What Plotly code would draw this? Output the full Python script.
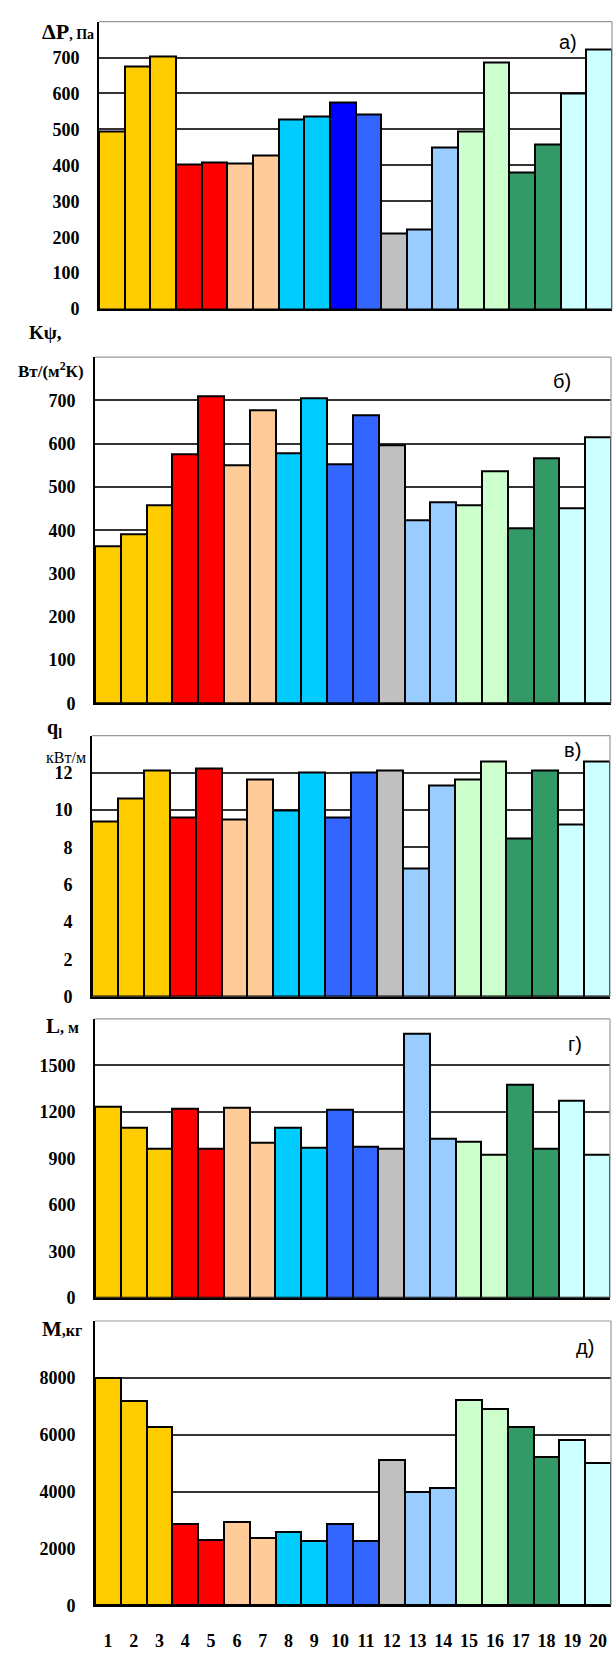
import plotly.graph_objects as go
from plotly.subplots import make_subplots

# ---------------- data ----------------
categories = list(range(1, 21))
x_labels = [str(c) for c in categories]

dP = [495, 675, 702, 403, 408, 405, 428, 528, 535, 576,
      541, 209, 220, 450, 495, 686, 381, 459, 599, 723]
K_psi = [364, 390, 458, 575, 711, 551, 677, 579, 705, 553,
         666, 596, 424, 465, 458, 537, 404, 566, 451, 616]
q_l = [9.38, 10.62, 12.14, 9.58, 12.21, 9.52, 11.65, 9.98, 12.0, 9.63,
       12.0, 12.14, 6.85, 11.33, 11.65, 12.62, 8.48, 12.14, 9.22, 12.6]
L_m = [1230, 1094, 961, 1218, 961, 1224, 999, 1094, 967, 1211,
       972, 961, 1701, 1029, 1006, 922, 1374, 961, 1269, 922]
M_kg = [8000, 7187, 6258, 2845, 2287, 2926, 2369, 2566, 2252, 2845,
        2252, 5120, 3994, 4110, 7210, 6897, 6270, 5201, 5805, 4992]

ticks_a = [0, 100, 200, 300, 400, 500, 600, 700]
ticks_b = [0, 100, 200, 300, 400, 500, 600, 700]
ticks_c = [0, 2, 4, 6, 8, 10, 12]
ticks_d = [0, 300, 600, 900, 1200, 1500]
ticks_e = [0, 2000, 4000, 6000, 8000]

GOLD, RED, PEACH = "#FFCC00", "#FF0000", "#FFCC99"
CYAN, BLUE, DBLUE = "#00CCFF", "#3366FF", "#0000FF"
GRAY, LBLUE, LGREEN = "#C0C0C0", "#99CCFF", "#CCFFCC"
DGREEN, LCYAN = "#339966", "#CCFFFF"

colors_base = [GOLD, GOLD, GOLD, RED, RED, PEACH, PEACH, CYAN, CYAN, BLUE,
               BLUE, GRAY, LBLUE, LBLUE, LGREEN, LGREEN, DGREEN, DGREEN, LCYAN, LCYAN]
colors_a = colors_base[:9] + [DBLUE] + colors_base[10:]

panels = [
    dict(y=dP, colors=colors_a, ticks=ticks_a, rng=[0, 800]),
    dict(y=K_psi, colors=colors_base, ticks=ticks_b, rng=[0, 800]),
    dict(y=q_l, colors=colors_base, ticks=ticks_c, rng=[0, 14]),
    dict(y=L_m, colors=colors_base, ticks=ticks_d, rng=[0, 1800]),
    dict(y=M_kg, colors=colors_base, ticks=ticks_e, rng=[0, 10000]),
]

# layout geometry (pixels)
W, H = 616, 1660
xdom_px = [(99, 612), (95, 611), (92, 610), (95, 610), (95, 611)]
ydom_px = [(21.7, 311), (359.3, 707.7), (740, 1002.7), (1025, 1305.7), (1329, 1615)]


def px_x(p):
    return p / W


def px_y(p):
    return 1 - p / H


fig = make_subplots(rows=5, cols=1)

SERIF = "Liberation Serif, Times New Roman, serif"
SANS = "Liberation Sans, Arial, sans-serif"
tickfont = dict(family=SERIF, size=18, color="black", weight="bold")

for i, p in enumerate(panels):
    r = i + 1
    fig.add_trace(go.Bar(
        x=categories, y=p["y"],
        marker=dict(color=p["colors"], line=dict(color="black", width=2)),
        showlegend=False,
    ), row=r, col=1)
    xd = [px_x(xdom_px[i][0]), px_x(xdom_px[i][1])]
    yd = [px_y(ydom_px[i][1]), px_y(ydom_px[i][0])]
    fig.update_xaxes(
        domain=xd, range=[0.5, 20.5], showgrid=False, zeroline=False,
        showline=True, linecolor="black", linewidth=2,
        tickvals=categories, ticktext=x_labels, ticks="",
        showticklabels=(r == 5), tickfont=tickfont, ticklabelstandoff=18,
        row=r, col=1)
    fig.update_yaxes(
        domain=yd, range=p["rng"], tickvals=p["ticks"], showgrid=True,
        gridcolor="#333333", gridwidth=1.5, zeroline=False,
        showline=True, linecolor="black", linewidth=2, ticks="",
        tickfont=tickfont, ticklabelstandoff=14,
        row=r, col=1)
    axn = "" if r == 1 else str(r)
    # top and right frame lines
    fig.add_shape(type="line", xref=f"x{axn} domain", yref=f"y{axn} domain",
                  x0=0, x1=1, y0=1, y1=1, line=dict(color="#999999", width=1.2))
    fig.add_shape(type="line", xref=f"x{axn} domain", yref=f"y{axn} domain",
                  x0=1, x1=1, y0=0, y1=1, line=dict(color="#999999", width=1.2))

fig.update_layout(bargap=0, barmode="overlay")

annots = [
    # axis titles
    dict(text="<b>ΔP</b><span style='font-size:14px'><b>, Па</b></span>",
         x=96, y=32, xanchor="right", font=dict(family=SERIF, size=22)),
    dict(text="<b>Kψ,</b>", x=64, y=335, xanchor="right", font=dict(family=SERIF, size=19)),
    dict(text="<b>Вт/(м<sup>2</sup>К)</b>", x=86, y=372, xanchor="right",
         font=dict(family=SERIF, size=17)),
    dict(text="<b>q<sub>l</sub></b>", x=64, y=733, xanchor="right",
         font=dict(family=SERIF, size=20)),
    dict(text="кВт/м", x=88, y=762, xanchor="right", font=dict(family=SERIF, size=16)),
    dict(text="<b>L</b><span style='font-size:16px'><b>, м</b></span>",
         x=81, y=1032, xanchor="right", font=dict(family=SERIF, size=21)),
    dict(text="<b>M</b><span style='font-size:16px'><b>,кг</b></span>",
         x=84, y=1337, xanchor="right", font=dict(family=SERIF, size=21)),
    # panel letters
    dict(text="а)", x=568, y=42, xanchor="center", font=dict(family=SANS, size=20)),
    dict(text="б)", x=562, y=383, xanchor="center", font=dict(family=SANS, size=20)),
    dict(text="в)", x=572, y=755, xanchor="center", font=dict(family=SANS, size=20)),
    dict(text="г)", x=575, y=1050, xanchor="center", font=dict(family=SANS, size=20)),
    dict(text="д)", x=585, y=1355, xanchor="center", font=dict(family=SANS, size=20)),
]
for a in annots:
    fig.add_annotation(
        text=a["text"], x=px_x(a["x"]), y=px_y(a["y"]), xref="paper", yref="paper",
        xanchor=a["xanchor"], yanchor="middle", showarrow=False,
        font=dict(color="black", **a["font"]))

fig.update_layout(
    width=W, height=H, margin=dict(l=0, r=0, t=0, b=0),
    paper_bgcolor="white", plot_bgcolor="white",
)

fig.write_html(
    "out.html",
    config={"displayModeBar": False},
    post_script="document.body.style.margin='0';document.body.style.overflow='hidden';",
)
